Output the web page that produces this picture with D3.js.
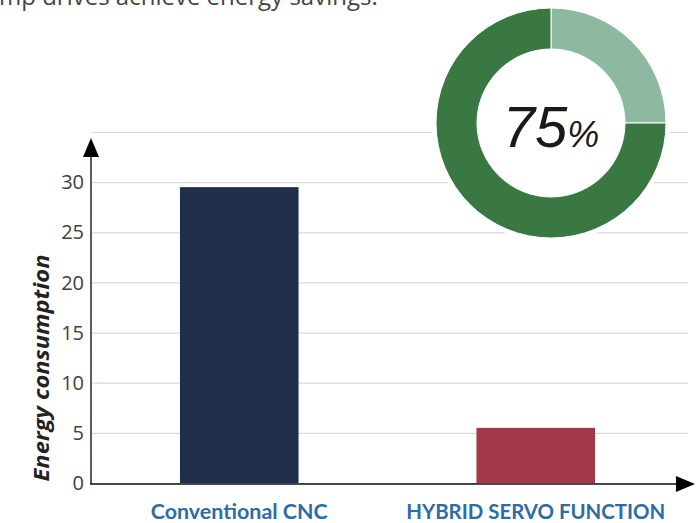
<!DOCTYPE html>
<html>
<head>
<meta charset="utf-8">
<script src="https://cdn.jsdelivr.net/npm/d3@7"></script>
<style>
  body { margin: 0; background: #fff; }
  svg { display: block; }
</style>
</head>
<body>
<div id="chart"></div>
<script>
// data
var categories = ["Conventional CNC", "HYBRID SERVO FUNCTION"];
var labelWidths = [177, 259];
var energyValues = [29.5, 5.5];
var barColors = ["#212e4b", "#a3384b"];
var yTicks = [0, 5, 10, 15, 20, 25, 30, 35];
var yTickLabels = ["0", "5", "10", "15", "20", "25", "30", ""];
var ringNames = ["rest", "saving"];
var ringValues = [25, 75];
var ringColors = ["#8db9a1", "#3a7843"];

var width = 697, height = 523;

var svg = d3.select("#chart").append("svg")
    .attr("width", width)
    .attr("height", height);

// partial heading, cut off at the top edge like the original
svg.append("text")
    .attr("x", -1)
    .attr("y", 5)
    .attr("font-family", "Open Sans")
    .attr("font-size", 24)
    .attr("fill", "#444")
    .text("mp drives achieve energy savings.");

var y = d3.scaleLinear().domain([0, 35]).range([483, 132]);
var x = d3.scaleBand()
    .domain(categories)
    .range([91, 684])
    .paddingInner(0.6)
    .paddingOuter(0.3);

// gridlines
svg.append("g")
    .selectAll("line")
    .data(yTicks)
    .enter().append("line")
    .attr("x1", 91)
    .attr("x2", 688)
    .attr("y1", function(d) { return y(d) + 0.5; })
    .attr("y2", function(d) { return y(d) + 0.5; })
    .attr("stroke", "#d9d9d9")
    .attr("stroke-width", 1.2);

// tick labels
svg.append("g")
    .selectAll("text")
    .data(yTicks)
    .enter().append("text")
    .attr("x", 84)
    .attr("y", function(d) { return y(d); })
    .attr("dy", "0.36em")
    .attr("text-anchor", "end")
    .attr("font-family", "Open Sans")
    .attr("font-size", 20)
    .attr("fill", "#404040")
    .text(function(d, i) { return yTickLabels[i]; });

// bars
svg.append("g")
    .selectAll("rect")
    .data(energyValues)
    .enter().append("rect")
    .attr("x", function(d, i) { return x(categories[i]); })
    .attr("y", function(d) { return y(d); })
    .attr("width", x.bandwidth())
    .attr("height", function(d) { return y(0) - y(d); })
    .attr("fill", function(d, i) { return barColors[i]; });

// axes with arrow heads
svg.append("line")
    .attr("x1", 91).attr("x2", 91)
    .attr("y1", y(0) + 1).attr("y2", 152)
    .attr("stroke", "#333").attr("stroke-width", 1.6);
svg.append("path")
    .attr("d", "M91,138 L99,157 L83,157 Z")
    .attr("fill", "#000");

svg.append("line")
    .attr("x1", 90).attr("x2", 682)
    .attr("y1", y(0) + 1).attr("y2", y(0) + 1)
    .attr("stroke", "#111").attr("stroke-width", 1.6);
svg.append("path")
    .attr("d", "M695," + (y(0) + 1) + " L676," + (y(0) - 7) + " L676," + (y(0) + 9) + " Z")
    .attr("fill", "#000");

// category labels
svg.append("g")
    .selectAll("text")
    .data(categories)
    .enter().append("text")
    .attr("x", function(d) { return x(d) + x.bandwidth() / 2; })
    .attr("y", 519)
    .attr("text-anchor", "middle")
    .attr("font-family", "Lato")
    .attr("font-weight", "bold")
    .attr("font-size", 20)
    .attr("textLength", function(d, i) { return labelWidths[i]; })
    .attr("lengthAdjust", "spacingAndGlyphs")
    .attr("fill", "#2e6ca4")
    .text(function(d) { return d; });

// y axis title
svg.append("text")
    .attr("transform", "translate(49,368) rotate(-90)")
    .attr("text-anchor", "middle")
    .attr("font-family", "Open Sans")
    .attr("font-weight", "bold")
    .attr("font-style", "italic")
    .attr("font-size", 21)
    .attr("textLength", 227)
    .attr("lengthAdjust", "spacingAndGlyphs")
    .attr("fill", "#222")
    .text("Energy consumption");

// donut
var cx = 551, cy = 123, rOut = 115, rIn = 74;
var ring = svg.append("g").attr("transform", "translate(" + cx + "," + cy + ")");
ring.append("circle").attr("r", rOut + 4).attr("fill", "#fff");

var pie = d3.pie().sort(null).value(function(d) { return d; });
var arc = d3.arc().innerRadius(rIn).outerRadius(rOut);

ring.selectAll("path")
    .data(pie(ringValues))
    .enter().append("path")
    .attr("d", arc)
    .attr("fill", function(d, i) { return ringColors[i]; })
    .attr("stroke", "#fff")
    .attr("stroke-width", 1);

var pct = ring.append("text")
    .attr("x", 0)
    .attr("y", 24)
    .attr("text-anchor", "middle")
    .attr("font-family", "Liberation Sans")
    .attr("font-style", "italic")
    .attr("fill", "#1a1a1a");
pct.append("tspan").attr("font-size", 58).text(ringValues[1]);
pct.append("tspan").attr("font-size", 36).text("%");
</script>
</body>
</html>
